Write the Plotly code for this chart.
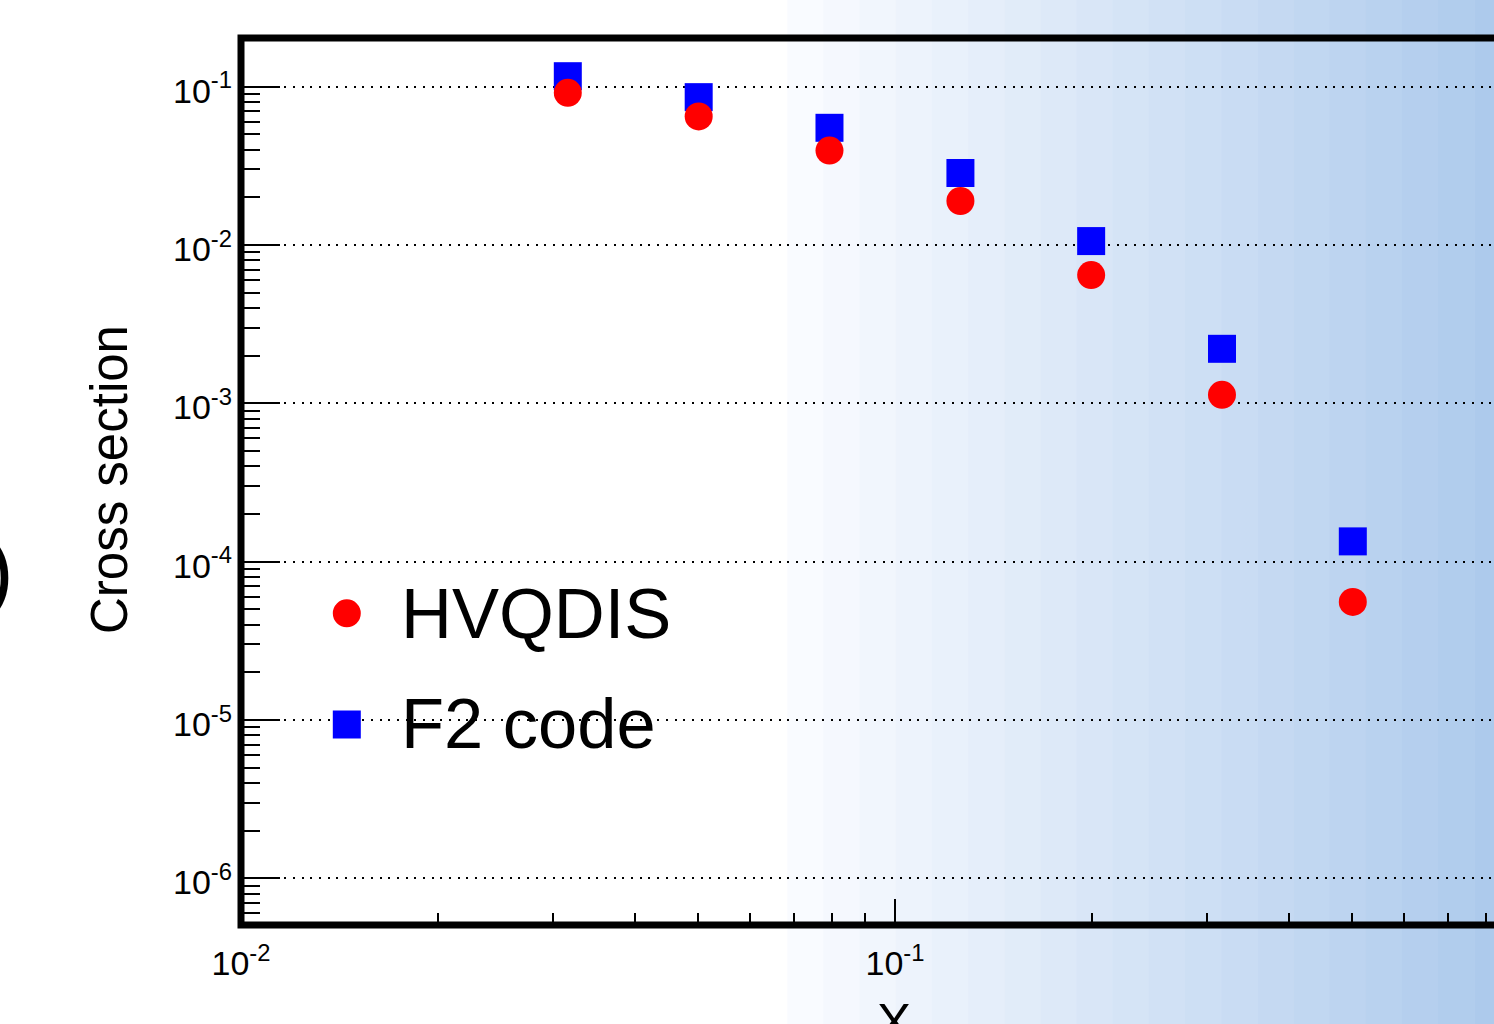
import plotly.graph_objects as go

# ---------------- data ----------------
x_vals = [0.0316, 0.0501, 0.0794, 0.1259, 0.1995, 0.3162, 0.5012]
hvqdis = [0.0915, 0.0649, 0.0395, 0.01897, 0.00646, 0.001132, 5.57e-5]
f2code = [0.1165, 0.0859, 0.0550, 0.0285, 0.01059, 0.00221, 1.343e-4]
series_names = ["HVQDIS", "F2 code"]
y_tickvals = [1e-6, 1e-5, 1e-4, 1e-3, 1e-2, 1e-1]
y_ticktext = ["10<sup>-6</sup>", "10<sup>-5</sup>", "10<sup>-4</sup>",
              "10<sup>-3</sup>", "10<sup>-2</sup>", "10<sup>-1</sup>"]
x_tickvals = [1e-2, 1e-1]
x_ticktext = ["10<sup>-2</sup>", "10<sup>-1</sup>"]

# ---------------- layout geometry ----------------
W, H = 1494, 1024
L, R, T, B = 241, 0, 38, 99
PW, PH = W - L - R, H - T - B
FONT = "Liberation Sans, Arial, Helvetica, sans-serif"


def px_x(px):
    return (px - L) / PW


def px_y(py):
    return (H - B - py) / PH


fig = go.Figure()

fig.add_trace(go.Scatter(
    x=x_vals, y=f2code, mode="markers", name=series_names[1],
    marker=dict(symbol="square", size=28, color="#0000FF", line=dict(width=0)),
    showlegend=False))
fig.add_trace(go.Scatter(
    x=x_vals, y=hvqdis, mode="markers", name=series_names[0],
    marker=dict(symbol="circle", size=28, color="#FF0000", line=dict(width=0)),
    showlegend=False))

shapes = []
# background gradient bands (whole canvas)
n_bands = 20
c0 = (249, 251, 255)
c1 = (173, 202, 236)
start, step = 787.3, 36.15
for k in range(n_bands):
    t = k / (n_bands - 1)
    col = tuple(round(c0[i] + (c1[i] - c0[i]) * t) for i in range(3))
    shapes.append(dict(type="rect", xref="paper", yref="paper",
                       x0=px_x(start + step * k), x1=px_x(start + step * (k + 1) + 0.5),
                       y0=px_y(H + 10), y1=px_y(-10),
                       fillcolor="rgb(%d,%d,%d)" % col, line=dict(width=0), layer="below"))

# frame (left, top, bottom; right side lies beyond the picture)
shapes.append(dict(type="rect", xref="paper", yref="paper", x0=0, x1=px_x(W + 60),
                   y0=0, y1=1, line=dict(color="black", width=7), layer="above"))

# legend symbols
r = 14
cx, cy1, cy2 = 346.8, 613.3, 724.5
shapes.append(dict(type="circle", xref="paper", yref="paper",
                   x0=px_x(cx - r), x1=px_x(cx + r), y0=px_y(cy1 + r), y1=px_y(cy1 - r),
                   fillcolor="#FF0000", line=dict(width=0), layer="above"))
shapes.append(dict(type="rect", xref="paper", yref="paper",
                   x0=px_x(cx - r), x1=px_x(cx + r), y0=px_y(cy2 + r), y1=px_y(cy2 - r),
                   fillcolor="#0000FF", line=dict(width=0), layer="above"))

annotations = [
    dict(text=series_names[0], xref="paper", yref="paper", x=px_x(399), y=px_y(613),
         xanchor="left", yanchor="middle", showarrow=False,
         font=dict(family=FONT, size=70.5, color="black")),
    dict(text=series_names[1], xref="paper", yref="paper", x=px_x(399), y=px_y(723),
         xanchor="left", yanchor="middle", showarrow=False,
         font=dict(family=FONT, size=70.5, color="black")),
    dict(text="Cross section", xref="paper", yref="paper", x=px_x(109), y=px_y(480),
         xanchor="center", yanchor="middle", textangle=-90, showarrow=False,
         font=dict(family=FONT, size=51, color="black")),
    dict(text="X", xref="paper", yref="paper", x=px_x(894), y=px_y(992),
         xanchor="center", yanchor="top", showarrow=False,
         font=dict(family=FONT, size=51, color="black")),
    dict(text=")", xref="paper", yref="paper", x=px_x(16), y=px_y(570),
         xanchor="right", yanchor="middle", showarrow=False,
         font=dict(family=FONT, size=86, color="black")),
]

fig.update_layout(
    width=W, height=H,
    margin=dict(l=L, r=R, t=T, b=B, autoexpand=False),
    paper_bgcolor="white",
    plot_bgcolor="rgba(0,0,0,0)",
    shapes=shapes,
    annotations=annotations,
    showlegend=False,
    font=dict(family=FONT, color="black"),
)

fig.update_xaxes(
    type="log", range=[-2.0, -0.0841],
    showline=False, zeroline=False, showgrid=False,
    tickmode="array", tickvals=x_tickvals, ticktext=x_ticktext,
    ticks="inside", ticklen=26, tickwidth=1.5, tickcolor="black",
    minor=dict(ticks="inside", ticklen=12, tickwidth=1.5, tickcolor="black",
               dtick="D1", showgrid=False),
    tickfont=dict(family=FONT, size=34, color="black"),
    ticklabelstandoff=15,
)
fig.update_yaxes(
    type="log", range=[-6.295, -0.6924],
    showline=False, zeroline=False,
    showgrid=True, gridcolor="black", gridwidth=2, griddash="2px,6.67px",
    tickmode="array", tickvals=y_tickvals, ticktext=y_ticktext,
    ticks="inside", ticklen=39, tickwidth=2, tickcolor="black",
    minor=dict(ticks="inside", ticklen=19, tickwidth=2, tickcolor="black",
               dtick="D1", showgrid=False),
    tickfont=dict(family=FONT, size=34, color="black"),
    ticklabelstandoff=8,
    ticklabelshift=4,
)

fig.write_html("out.html")
